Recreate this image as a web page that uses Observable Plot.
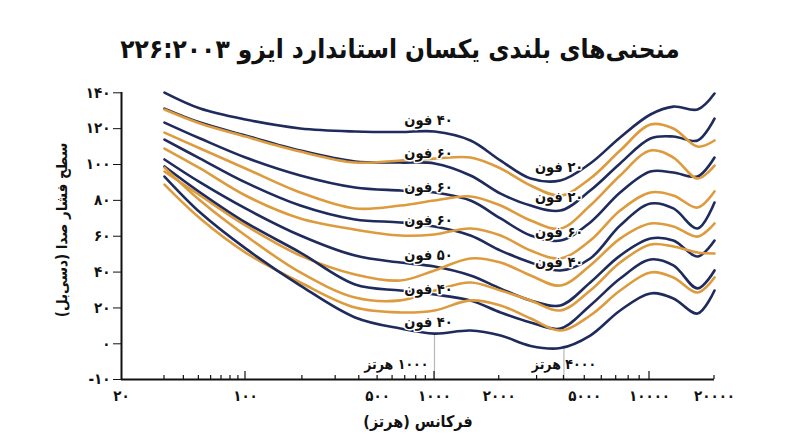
<!DOCTYPE html>
<html>
<head>
<meta charset="utf-8">
<script src="https://cdn.jsdelivr.net/npm/d3@7"></script>
<script src="https://cdn.jsdelivr.net/npm/@observablehq/plot@0.6"></script>
<style>
  body { margin: 0; background: #fff; overflow: hidden; }
  #title { height: 75px; display: flex; align-items: center; justify-content: center;
           font-family: "DejaVu Sans Condensed", "DejaVu Sans", sans-serif; font-weight: bold; font-size: 26px;
           direction: rtl; color: #111; padding-top: 22px; box-sizing: border-box; }
  #chart svg { display: block; }
</style>
</head>
<body>
<div id="title"></div>
<div id="chart"></div>
<script>
const titleText = "منحنی‌های بلندی یکسان استاندارد ایزو ۲۲۶:۲۰۰۳";
const xTitle = "فرکانس (هرتز)";
const yTitle = "سطح فشار صدا (دسی‌بل)";

// frequency columns (Hz)
const freqs = [30, 51, 100, 195, 380, 660, 1000, 1470, 2030, 2800, 3850, 5300, 7300, 10100, 12900, 16700, 20000];

// sound pressure level (dB) of each contour
const curve1  = [140.1, 131.2, 125.1, 120.1, 118.4, 118.1, 118.4, 113.4, 102.2, 92.2, 91.1, 100.6, 115.1, 127.9, 132.3, 130.7, 139.6];
const curve2  = [131.2, 123.4, 116.2, 107.8, 101.7, 101.1, 100.6, 93.9, 83.8, 77.1, 74.3, 85.5, 100.6, 114.5, 115.6, 113.4, 125.6];
const curve3  = [130.7, 122.9, 115.6, 107.2, 101.1, 102.2, 103.3, 103.9, 97.8, 88.3, 82.7, 92.2, 107.8, 122.3, 120.1, 110.0, 113.4];
const curve4  = [123.4, 114.5, 103.9, 93.9, 87.2, 85.5, 84.4, 79.9, 69.9, 60.4, 57.6, 67.7, 84.4, 96.1, 95.5, 93.3, 103.9];
const curve5  = [117.8, 108.9, 97.8, 84.4, 75.5, 77.1, 79.9, 82.2, 77.1, 68.8, 64.3, 77.1, 93.9, 107.8, 103.9, 92.2, 99.4];
const curve6  = [113.9, 103.3, 90.0, 77.1, 69.3, 67.7, 65.4, 60.4, 52.0, 45.4, 40.9, 47.6, 66.0, 78.2, 75.5, 64.3, 78.8];
const curve7  = [108.9, 97.8, 82.7, 69.9, 63.7, 60.4, 61.0, 64.3, 60.4, 52.0, 47.6, 57.6, 74.3, 84.4, 82.7, 76.0, 85.0];
const curve8  = [102.8, 90.0, 75.5, 60.4, 49.2, 45.3, 43.1, 38.1, 30.8, 24.2, 21.4, 34.2, 49.2, 58.7, 57.6, 48.7, 57.6];
const curve9  = [96.1, 82.7, 66.0, 49.2, 38.7, 35.3, 40.9, 47.6, 45.3, 38.1, 32.5, 43.7, 58.7, 67.1, 65.4, 59.8, 67.1];
const curve10 = [98.9, 84.4, 67.7, 50.9, 33.1, 29.7, 27.5, 24.2, 17.5, 11.9, 8.5, 21.4, 36.4, 47.0, 43.7, 30.9, 40.9];
const curve11 = [98.3, 79.9, 60.4, 39.8, 25.8, 24.2, 29.7, 34.2, 29.7, 24.2, 18.6, 29.7, 45.3, 55.4, 54.3, 50.9, 50.4];
const curve12 = [88.8, 69.9, 50.9, 34.2, 20.2, 17.5, 18.6, 24.2, 21.4, 14.1, 7.4, 15.8, 29.7, 39.8, 37.0, 28.6, 37.0];
const curve13 = [93.3, 73.2, 53.2, 32.5, 14.7, 8.5, 5.7, 7.4, 4.6, -0.6, -1.2, 4.6, 18.6, 28.1, 25.3, 16.9, 29.7];

const navy = "#1e2b5c", orange = "#dd9b3e";
const curves = [curve1, curve2, curve3, curve4, curve5, curve6, curve7, curve8, curve9, curve10, curve11, curve12, curve13];
const curveColors = [navy, navy, orange, navy, orange, navy, orange, navy, orange, navy, orange, orange, navy];

// curve labels
const leftLabelText = ["۴۰ فون", "۶۰ فون", "۶۰ فون", "۶۰ فون", "۵۰ فون", "۴۰ فون", "۴۰ فون"];
const leftLabelDb = [124.5, 106.1, 87.2, 68.8, 49.2, 30.3, 11.9];
const leftLabelFreq = 930;
const rightLabelText = ["۲۰ فون", "۲۰ فون", "۶۰ فون", "۴۰ فون"];
const rightLabelDb = [98.3, 81.6, 62.1, 45.3];
const rightLabelFreq = 3800;

// reference frequencies
const refFreqs = [1000, 4000];
const refTops = [5.2, -0.6];
const refLabels = ["۱۰۰۰ هرتز", "۴۰۰۰ هرتز"];

// axes
const xTicks = [20, 100, 500, 1000, 2000, 5000, 10000, 20000];
const xMajorTicks = [100, 1000, 10000];
const xMinorTicks = [30, 40, 50, 60, 70, 80, 90, 200, 300, 400, 500, 600, 700, 800, 900,
                     2000, 3000, 4000, 5000, 6000, 7000, 8000, 9000, 20000];
const yTicks = [-10, 0, 20, 40, 60, 80, 100, 120, 140];

const fa = n => String(n).replace(/\d/g, d => "۰۱۲۳۴۵۶۷۸۹"[d]);
const rtl = s => "\u200F" + s + "\u200F";
const FONT = "'DejaVu Sans Condensed', 'DejaVu Sans', sans-serif";

document.getElementById("title").textContent = titleText;

const rows = [];
curves.forEach((c, i) => c.forEach((v, j) => rows.push({f: freqs[j], db: v, id: i, col: curveColors[i]})));
const leftLabels = leftLabelText.map((t, i) => ({t: rtl(t), db: leftLabelDb[i], f: leftLabelFreq}));
const rightLabels = rightLabelText.map((t, i) => ({t: rtl(t), db: rightLabelDb[i], f: rightLabelFreq}));
const refs = refFreqs.map((f, i) => ({f, top: refTops[i], label: rtl(refLabels[i])}));
const xLabelRows = xTicks.map(v => ({v, t: fa(v)}));

function xTickMarks(index, scales) {
  const g = d3.create("svg:g").attr("stroke", "#111").attr("stroke-width", 1.2);
  const y0 = scales.y(-10);
  for (const t of xMinorTicks) g.append("line").attr("x1", scales.x(t)).attr("x2", scales.x(t)).attr("y1", y0).attr("y2", y0 - 4);
  for (const t of xMajorTicks) g.append("line").attr("x1", scales.x(t)).attr("x2", scales.x(t)).attr("y1", y0).attr("y2", y0 - 8);
  return g.node();
}

const chart = Plot.plot({
  width: 800,
  height: 372,
  marginLeft: 121,
  marginRight: 86,
  marginTop: 17,
  marginBottom: 68,
  style: {fontFamily: FONT, fontSize: "15px", fontWeight: "bold", color: "#111", background: "#fff"},
  x: {type: "log", domain: [20, 30, 100, 1000, 10000, 20000], range: [121, 164, 245, 434, 649, 714], axis: null},
  y: {type: "linear", domain: [-10, 0, 140], range: [304, 268.3, 17.3], ticks: yTicks, tickFormat: fa, tickSize: 8, tickPadding: 3, label: null},
  color: {type: "identity"},
  marks: [
    Plot.ruleX(refs, {x: "f", y1: -10, y2: "top", stroke: "#b8b8b8", strokeWidth: 1.2}),
    Plot.line(rows, {x: "f", y: "db", z: "id", stroke: "col", strokeWidth: 2.6, curve: "catmull-rom"}),
    Plot.ruleY([-10], {stroke: "#111", strokeWidth: 2}),
    Plot.ruleX([20], {stroke: "#111", strokeWidth: 2}),
    xTickMarks,
    Plot.text(xLabelRows, {x: "v", y: -10, dy: 17, text: "t", textAnchor: "middle", fontSize: 15, fontWeight: "bold", fill: "#111"}),
    Plot.text(leftLabels, {x: "f", y: "db", text: "t", fontSize: 14.5, fontWeight: "bold", fill: "#111",
      stroke: "#fff", strokeWidth: 3, paintOrder: "stroke"}),
    Plot.text(rightLabels, {x: "f", y: "db", text: "t", fontSize: 14.5, fontWeight: "bold", fill: "#111",
      stroke: "#fff", strokeWidth: 3, paintOrder: "stroke"}),
    Plot.text(refs.slice(0, 1), {x: "f", y: -10, dy: -15, dx: -6, text: "label", textAnchor: "end", fontSize: 14, fill: "#111"}),
    Plot.text(refs.slice(1), {x: "f", y: -10, dy: -15, text: "label", textAnchor: "middle", fontSize: 14, fill: "#111"}),
    Plot.text([rtl(yTitle)], {frameAnchor: "left", dx: -59, dy: -6, rotate: -90, textAnchor: "middle", fontSize: 15, fontWeight: "bold", fill: "#111"}),
    Plot.text([rtl(xTitle)], {frameAnchor: "bottom", dy: 42, textAnchor: "middle", lineAnchor: "middle", fontSize: 16, fontWeight: "bold", fill: "#111"})
  ]
});
document.getElementById("chart").appendChild(chart);
</script>
</body>
</html>
